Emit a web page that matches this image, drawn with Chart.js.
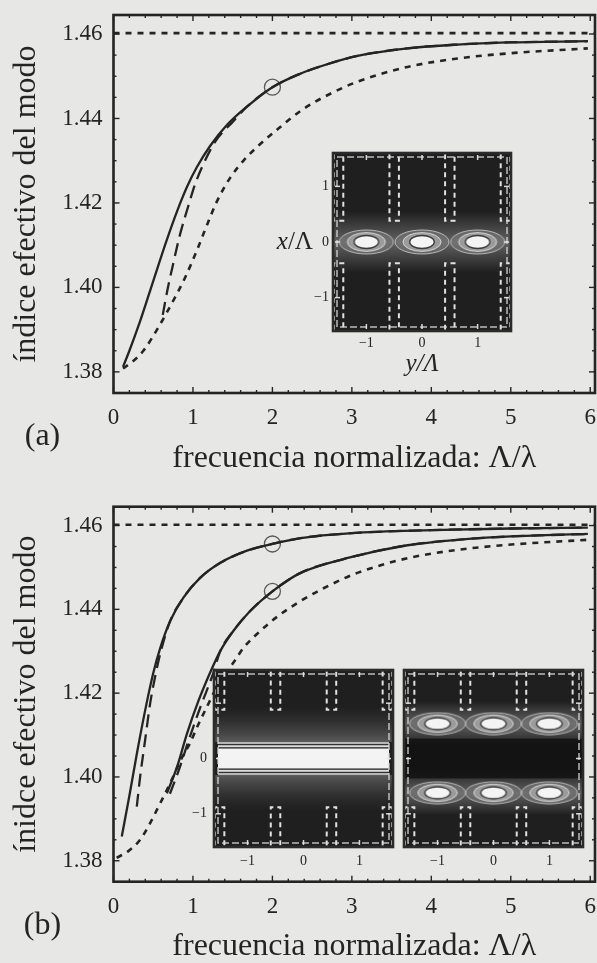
<!DOCTYPE html>
<html><head><meta charset="utf-8">
<script src="https://cdn.jsdelivr.net/npm/chart.js@4.4.1/dist/chart.umd.min.js"></script>
<style>
html,body{margin:0;padding:0;background:#e7e7e5;width:597px;height:963px;overflow:hidden}
canvas{position:absolute}
</style></head><body>
<canvas id="ca" width="597" height="480" style="left:0;top:0"></canvas>
<canvas id="cb" width="597" height="475" style="left:0;top:488px"></canvas>
<canvas id="ia" width="253" height="235" style="left:262px;top:145px"></canvas>
<canvas id="ib1" width="240" height="220" style="left:160px;top:662px"></canvas>
<canvas id="ib2" width="190" height="220" style="left:398px;top:662px"></canvas>
<script>
// ---------- axes ----------
const xTickValues = [0, 1, 2, 3, 4, 5, 6];
const yTickValues = [1.38, 1.40, 1.42, 1.44, 1.46];
const xRange = [0, 6.06];
const yRange = [1.375, 1.4645];
const claddingX = [0, 6.06];
const claddingY = [1.4602, 1.4602];

// ---------- panel (a) ----------
const aSolidX = [0.12, 0.20, 0.335, 0.50, 0.67, 0.82, 0.93, 1.05, 1.22, 1.43, 1.68, 2.00, 2.35, 2.65, 3.07, 3.70, 4.33, 4.96, 5.97];
const aSolidY = [1.3812, 1.3850, 1.3920, 1.4015, 1.4112, 1.4190, 1.4240, 1.4285, 1.4336, 1.4385, 1.4428, 1.4474, 1.4506, 1.4526, 1.4548, 1.4566, 1.4575, 1.4580, 1.4583];
const aDashX = [0.62, 0.68, 0.75, 0.83, 0.945, 1.03, 1.134, 1.28, 1.50, 1.68, 2.00, 2.35, 2.65, 3.07, 3.70, 4.33, 4.96, 5.97];
const aDashY = [1.3935, 1.3995, 1.4055, 1.4120, 1.4195, 1.4246, 1.4293, 1.4345, 1.4392, 1.4428, 1.4474, 1.4506, 1.4526, 1.4548, 1.4566, 1.4575, 1.4580, 1.4583];
const aDotX = [0.12, 0.23, 0.376, 0.566, 0.776, 0.903, 1.05, 1.177, 1.30, 1.47, 1.64, 1.85, 2.10, 2.355, 2.65, 3.07, 3.70, 4.33, 4.96, 5.97];
const aDotY = [1.3808, 1.3823, 1.3850, 1.3906, 1.3977, 1.4024, 1.4088, 1.4148, 1.4203, 1.4260, 1.4301, 1.4340, 1.4380, 1.4418, 1.4451, 1.4487, 1.4522, 1.4542, 1.4554, 1.4566];
const aMarkX = [2.0];
const aMarkY = [1.4474];

// ---------- panel (b) ----------
const bUpSolidX = [0.104, 0.20, 0.30, 0.419, 0.503, 0.587, 0.713, 0.88, 1.09, 1.345, 1.68, 2.00, 2.355, 3.00, 4.00, 5.00, 5.97];
const bUpSolidY = [1.3858, 1.3955, 1.4062, 1.4178, 1.4250, 1.4307, 1.4372, 1.4428, 1.4475, 1.4511, 1.4540, 1.4556, 1.4570, 1.4582, 1.4589, 1.4593, 1.4595];
const bUpDashX = [0.293, 0.335, 0.398, 0.461, 0.53, 0.60, 0.713, 0.88, 1.09, 1.345, 1.68, 2.00, 2.355, 3.00, 4.00, 5.00, 5.97];
const bUpDashY = [1.3929, 1.4000, 1.4088, 1.4175, 1.4245, 1.4303, 1.4372, 1.4428, 1.4475, 1.4511, 1.4540, 1.4556, 1.4570, 1.4582, 1.4589, 1.4593, 1.4595];
const bLoSolidX = [0.672, 0.80, 0.924, 1.07, 1.218, 1.345, 1.51, 1.72, 2.00, 2.355, 3.00, 3.70, 4.33, 5.00, 5.97];
const bLoSolidY = [1.3961, 1.4024, 1.4103, 1.4182, 1.4250, 1.4301, 1.4349, 1.4396, 1.4443, 1.4487, 1.4525, 1.4553, 1.4566, 1.4574, 1.4580];
const bLoDashX = [0.71, 0.82, 0.95, 1.10, 1.25, 1.345, 1.51, 1.72, 2.00, 2.355, 3.00, 3.70, 4.33, 5.00, 5.97];
const bLoDashY = [1.3960, 1.4015, 1.4090, 1.4170, 1.4245, 1.4301, 1.4349, 1.4396, 1.4443, 1.4487, 1.4525, 1.4553, 1.4566, 1.4574, 1.4580];
const bDotX = [0.04, 0.187, 0.335, 0.461, 0.587, 0.713, 0.84, 0.966, 1.05, 1.177, 1.33, 1.51, 1.64, 1.85, 2.10, 2.355, 2.65, 3.07, 3.70, 4.33, 4.96, 5.97];
const bDotY = [1.3807, 1.3823, 1.3850, 1.3890, 1.3937, 1.3985, 1.4038, 1.4082, 1.4118, 1.4168, 1.4225, 1.4273, 1.4309, 1.4349, 1.4388, 1.4420, 1.4451, 1.4487, 1.4522, 1.4542, 1.4554, 1.4566];
const bMarkX = [2.0, 2.0];
const bMarkY = [1.4556, 1.4443];

// ---------- insets (field maps) ----------
const insetRange = [-1.6, 1.6];
const insetTicks = [-1, 0, 1];
const insetYTicksB = [-1, 0];
const rodCenters = [-1.5, -0.5, 0.5, 1.5];
const rodHalf = 0.085;
const rodInnerA = 0.38;
const rodInnerB = 0.88;
const peaksAX = [-1, 0, 1];
const peaksAY = [0, 0, 0];
const peaksB2X = [-1, 0, 1, -1, 0, 1];
const peaksB2Y = [0.63, 0.63, 0.63, -0.62, -0.62, -0.62];
const glowA = [0];
const glowB2 = [0.63, -0.62];
const bandB1Half = 0.18;

// ---------- helpers ----------
const FONT = "'Liberation Serif', 'Times New Roman', serif";
const INK = '#242424';
Chart.defaults.font.family = FONT;
Chart.defaults.color = INK;

function pts(xs, ys) { return xs.map((x, i) => ({ x: x, y: ys[i] })); }
function curve(xs, ys, dash, w) {
  return { data: pts(xs, ys), showLine: true, pointRadius: 0, borderColor: INK,
    borderWidth: w || 2.3, borderDash: dash || [], cubicInterpolationMode: 'monotone', fill: false, clip: 2 };
}
function marks(xs, ys) {
  return { data: pts(xs, ys), showLine: false, pointRadius: 8, pointHoverRadius: 8, pointStyle: 'circle',
    pointBorderColor: '#5a5a5a', pointBorderWidth: 1.3, pointBackgroundColor: 'rgba(0,0,0,0)' };
}
const LONG = [13, 7], SHORT = [6, 6];

const frameTicks = {
  id: 'frameTicks',
  afterDatasetsDraw(chart) {
    const { ctx, chartArea: a, scales: { x, y } } = chart;
    ctx.save();
    ctx.strokeStyle = INK; ctx.lineWidth = 1.4;
    const tick = (px, py, dx, dy) => { ctx.beginPath(); ctx.moveTo(px, py); ctx.lineTo(px + dx, py + dy); ctx.stroke(); };
    for (let k = 0; k * 0.2 <= x.max + 1e-9; k++) {
      const px = x.getPixelForValue(k * 0.2);
      const L = (k % 5 === 0) ? 6 : 3;
      tick(px, a.bottom, 0, -L); tick(px, a.top, 0, L);
    }
    for (let k = 0; ; k++) {
      const v = 1.375 + k * 0.005;
      if (v > y.max + 1e-9) break;
      const r = (v - 1.38) / 0.02;
      const L = Math.abs(r - Math.round(r)) < 1e-6 ? 6 : 3;
      const py = y.getPixelForValue(v);
      tick(a.left, py, L, 0); tick(a.right, py, -L, 0);
    }
    ctx.lineWidth = 2.6;
    ctx.strokeRect(a.left, a.top, a.right - a.left, a.bottom - a.top);
    ctx.restore();
  }
};
const panelTag = {
  id: 'panelTag',
  afterDraw(chart, args, o) {
    const { ctx, chartArea: a } = chart;
    ctx.save();
    ctx.font = '32px ' + FONT; ctx.fillStyle = INK;
    ctx.textAlign = 'center'; ctx.textBaseline = 'middle';
    ctx.fillText(o.text, a.left - 71, a.bottom + 44);
    ctx.restore();
  }
};
function noPadX(h) { return s => { s.height = h; s.paddingLeft = 0; s.paddingRight = 0; s.paddingTop = 0; s.paddingBottom = 0; }; }
function noPadY(w) { return s => { s.width = w; s.paddingLeft = 0; s.paddingRight = 0; s.paddingTop = 0; s.paddingBottom = 0; }; }

function mainChart(id, datasets, yTitle, tag, padTop, xAxisH, xTitlePad) {
  return new Chart(document.getElementById(id), {
    type: 'scatter',
    data: { datasets: datasets },
    options: {
      responsive: false, animation: false, devicePixelRatio: 1,
      layout: { autoPadding: false, padding: { top: padTop, right: 2, left: 0, bottom: 0 } },
      plugins: { legend: { display: false }, tooltip: { enabled: false }, panelTag: { text: tag } },
      scales: {
        x: {
          type: 'linear', min: xRange[0], max: xRange[1],
          grid: { display: false, drawTicks: false }, border: { display: false },
          afterBuildTicks: s => { s.ticks = xTickValues.map(v => ({ value: v })); },
          ticks: { font: { size: 23 }, color: INK, padding: 11, maxRotation: 0, callback: v => String(v) },
          title: { display: true, text: 'frecuencia normalizada: Λ/λ', color: INK,
            font: { size: 32, lineHeight: 1 }, padding: { top: 0, bottom: xTitlePad } },
          afterFit: noPadX(xAxisH)
        },
        y: {
          type: 'linear', min: yRange[0], max: yRange[1],
          grid: { display: false, drawTicks: false }, border: { display: false },
          afterBuildTicks: s => { s.ticks = yTickValues.map(v => ({ value: v })); },
          ticks: { font: { size: 23 }, color: INK, padding: 11, callback: v => Number(v).toFixed(2) },
          title: { display: true, text: yTitle, color: INK, font: { size: 32, lineHeight: 1 }, padding: { top: 11, bottom: 0 } },
          afterFit: noPadY(113.5)
        }
      }
    },
    plugins: [frameTicks, panelTag]
  });
}

mainChart('ca', [
  curve(aDotX, aDotY, SHORT, 2.6),
  curve(aDashX, aDashY, LONG, 2.3),
  curve(aSolidX, aSolidY, [], 2.3),
  curve(claddingX, claddingY, SHORT, 2.6),
  marks(aMarkX, aMarkY)
], 'índice efectivo del modo', '(a)', 15, 87, 5);

mainChart('cb', [
  curve(bDotX, bDotY, SHORT, 2.6),
  curve(bLoDashX, bLoDashY, LONG, 2.3),
  curve(bLoSolidX, bLoSolidY, [], 2.3),
  curve(bUpDashX, bUpDashY, LONG, 2.3),
  curve(bUpSolidX, bUpSolidY, [], 2.3),
  curve(claddingX, claddingY, SHORT, 2.6),
  marks(bMarkX, bMarkY)
], 'ínidce efectivo del modo', '(b)', 18.7, 81.3, 0);

// ---------- inset drawing ----------
function makeBlob(w, h) {
  const c = document.createElement('canvas'); c.width = w; c.height = h;
  const g = c.getContext('2d'); const cx = w / 2, cy = h / 2;
  g.fillStyle = 'rgba(125,125,125,0.55)';
  g.beginPath(); g.ellipse(cx, cy, w / 2 - 1, h / 2 - 1, 0, 0, Math.PI * 2); g.fill();
  g.strokeStyle = 'rgba(200,200,200,0.85)'; g.lineWidth = 1; g.stroke();
  g.fillStyle = 'rgba(160,160,160,0.9)';
  g.beginPath(); g.ellipse(cx, cy, w * 0.34, h * 0.36, 0, 0, Math.PI * 2); g.fill();
  g.strokeStyle = '#d6d6d6'; g.stroke();
  g.fillStyle = '#f4f4f4';
  g.beginPath(); g.ellipse(cx, cy, w * 0.22, h * 0.25, 0, 0, Math.PI * 2); g.fill();
  g.strokeStyle = '#3a3a3a'; g.lineWidth = 1.3; g.stroke();
  return c;
}
const blobA = makeBlob(56, 26);
const blobB = makeBlob(58, 24);

function rods(inner) {
  const out = [];
  rodCenters.forEach(c => {
    [1, -1].forEach(s => {
      out.push({ data: [{ x: c - rodHalf, y: s * 1.9 }, { x: c - rodHalf, y: s * inner }, { x: c + rodHalf, y: s * inner }, { x: c + rodHalf, y: s * 1.9 }],
        showLine: true, pointRadius: 0, borderColor: 'rgba(236,236,236,0.95)', borderWidth: 2,
        borderDash: [5, 4], clip: 0, fill: false });
    });
  });
  return out;
}
function peaks(xs, ys, img) {
  return { data: pts(xs, ys), showLine: false, pointRadius: 5, pointStyle: img, clip: 0 };
}

const insetPaint = {
  id: 'insetPaint',
  beforeDatasetsDraw(chart, args, o) {
    const { ctx, chartArea: a, scales: { x, y } } = chart;
    const W = a.right - a.left;
    ctx.save();
    ctx.beginPath(); ctx.rect(a.left, a.top, W, a.bottom - a.top); ctx.clip();
    ctx.fillStyle = '#1f1f1f'; ctx.fillRect(a.left, a.top, W, a.bottom - a.top);
    (o.glows || []).forEach(v => {
      const y0 = y.getPixelForValue(v), hw = Math.abs(y.getPixelForValue(v + o.glowHalf) - y0);
      const gr = ctx.createLinearGradient(0, y0 - hw, 0, y0 + hw);
      gr.addColorStop(0, 'rgba(120,120,120,0)');
      gr.addColorStop(0.5, o.glowColor);
      gr.addColorStop(1, 'rgba(120,120,120,0)');
      ctx.fillStyle = gr; ctx.fillRect(a.left, y0 - hw, W, 2 * hw);
    });
    if (o.darkCore) {
      const t = y.getPixelForValue(o.darkCore), b = y.getPixelForValue(-o.darkCore);
      ctx.fillStyle = 'rgba(18,18,18,0.85)'; ctx.fillRect(a.left, t, W, b - t);
    }
    if (o.band) {
      const h = o.band;
      [1, -1].forEach(s => {
        const p1 = y.getPixelForValue(s * 0.95), p2 = y.getPixelForValue(s * 0.3);
        const gr = ctx.createLinearGradient(0, p1, 0, p2);
        gr.addColorStop(0, 'rgba(60,60,60,0)'); gr.addColorStop(1, 'rgba(95,95,95,0.9)');
        ctx.fillStyle = gr; ctx.fillRect(a.left, Math.min(p1, p2), W, Math.abs(p2 - p1));
      });
      const stripes = [[0.30, 0.26, '#b5b5b5'], [0.26, 0.24, '#333'], [0.24, h + 0.02, '#dedede'], [h + 0.02, h, '#2e2e2e']];
      stripes.forEach(([v1, v2, col]) => {
        [1, -1].forEach(s => {
          const p1 = y.getPixelForValue(s * v1), p2 = y.getPixelForValue(s * v2);
          ctx.fillStyle = col; ctx.fillRect(a.left + 4, Math.min(p1, p2), W - 8, Math.abs(p2 - p1));
        });
      });
      const t = y.getPixelForValue(h), b = y.getPixelForValue(-h);
      ctx.fillStyle = '#f3f3f3'; ctx.fillRect(a.left + 4, t, W - 8, b - t);
    }
    ctx.restore();
  },
  afterDatasetsDraw(chart, args, o) {
    const { ctx, chartArea: a, scales: { x, y } } = chart;
    const W = a.right - a.left, H = a.bottom - a.top;
    ctx.save();
    ctx.strokeStyle = 'rgba(215,215,215,0.85)'; ctx.lineWidth = 1.5; ctx.setLineDash([7, 3]);
    ctx.strokeRect(a.left + 4, a.top + 4, W - 8, H - 8);
    ctx.setLineDash([]);
    ctx.strokeStyle = 'rgba(235,235,235,0.9)'; ctx.lineWidth = 1.5;
    insetTicks.forEach(v => {
      const px = x.getPixelForValue(v), py = y.getPixelForValue(v);
      ctx.beginPath(); ctx.moveTo(px, a.bottom - 2); ctx.lineTo(px, a.bottom - 7); ctx.stroke();
      ctx.beginPath(); ctx.moveTo(px, a.top + 2); ctx.lineTo(px, a.top + 7); ctx.stroke();
      ctx.beginPath(); ctx.moveTo(a.left + 2, py); ctx.lineTo(a.left + 7, py); ctx.stroke();
      ctx.beginPath(); ctx.moveTo(a.right - 2, py); ctx.lineTo(a.right - 7, py); ctx.stroke();
    });
    ctx.strokeStyle = '#2b2b2b'; ctx.lineWidth = 2.6;
    ctx.strokeRect(a.left, a.top, W, H);
    if (o.sideLabel) {
      const py = y.getPixelForValue(0);
      ctx.fillStyle = INK; ctx.textBaseline = 'middle'; ctx.textAlign = 'right';
      ctx.font = '25px ' + FONT;
      ctx.fillText('/Λ', a.left - 20, py);
      const wS = ctx.measureText('/Λ').width;
      ctx.font = 'italic 25px ' + FONT;
      ctx.fillText('x', a.left - 20 - wS, py);
    }
    ctx.restore();
  }
};

function insetChart(id, datasets, paint, opt) {
  return new Chart(document.getElementById(id), {
    type: 'scatter',
    data: { datasets: datasets },
    options: {
      responsive: false, animation: false, devicePixelRatio: 1,
      layout: { autoPadding: false, padding: { top: 8, right: opt.padRight, left: 0, bottom: 0 } },
      plugins: { legend: { display: false }, tooltip: { enabled: false }, insetPaint: paint },
      scales: {
        x: {
          type: 'linear', min: insetRange[0], max: insetRange[1],
          grid: { display: false, drawTicks: false }, border: { display: false },
          afterBuildTicks: s => { s.ticks = insetTicks.map(v => ({ value: v })); },
          ticks: { font: { size: 14 }, color: INK, padding: opt.xTickPad, maxRotation: 0,
            callback: v => (v < 0 ? '\u2212' + Math.abs(v) : String(v)) },
          title: { display: !!opt.xTitle, text: opt.xTitle || '', color: INK,
            font: { size: 25, style: 'italic', lineHeight: 1 }, padding: { top: 0, bottom: 3 } },
          afterFit: noPadX(opt.xAxisH)
        },
        y: {
          type: 'linear', min: insetRange[0], max: insetRange[1],
          grid: { display: false, drawTicks: false }, border: { display: false },
          afterBuildTicks: s => { s.ticks = (opt.yTicks || []).map(v => ({ value: v })); },
          ticks: { display: !!opt.yTicks, font: { size: 14 }, color: INK, padding: opt.yTickPad || 4,
            callback: v => (v < 0 ? '\u2212' + Math.abs(v) : String(v)) },
          afterFit: noPadY(opt.yAxisW)
        }
      }
    },
    plugins: [insetPaint]
  });
}

insetChart('ia', rods(rodInnerA).concat([peaks(peaksAX, peaksAY, blobA)]),
  { glows: glowA, glowHalf: 0.55, glowColor: 'rgba(120,120,120,0.75)', sideLabel: true },
  { padRight: 4, xTickPad: 4, xAxisH: 49, yAxisW: 71, yTicks: insetTicks, yTickPad: 4, xTitle: 'y/Λ' });

insetChart('ib1', rods(rodInnerB),
  { band: bandB1Half },
  { padRight: 7, xTickPad: 6, xAxisH: 35, yAxisW: 54, yTicks: insetYTicksB, yTickPad: 7 });

insetChart('ib2', rods(rodInnerB).concat([peaks(peaksB2X, peaksB2Y, blobB)]),
  { glows: glowB2, glowHalf: 0.4, glowColor: 'rgba(110,110,110,0.8)', darkCore: 0.36 },
  { padRight: 5, xTickPad: 6, xAxisH: 35, yAxisW: 6 });
</script>
</body></html>
